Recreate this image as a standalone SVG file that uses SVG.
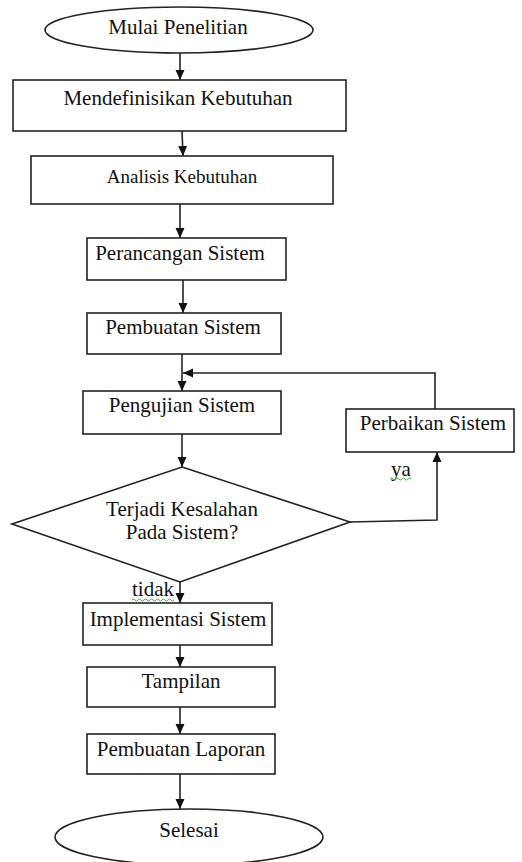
<svg xmlns="http://www.w3.org/2000/svg" width="522" height="862" viewBox="0 0 522 862">
<defs>
<marker id="arr" markerUnits="userSpaceOnUse" markerWidth="10" markerHeight="10" refX="10" refY="5" orient="auto">
<path d="M0,0.5 L10,5 L0,9.5 z" fill="#111"/>
</marker>
<style>
.shape{fill:#fff;stroke:#222;stroke-width:1.6}
.conn{fill:none;stroke:#222;stroke-width:1.6}
.t{font-family:"Liberation Serif","Times New Roman",serif;font-size:21px;fill:#111;text-anchor:middle}
.sq{fill:none;stroke:#4a4;stroke-width:1}
</style>
</defs>
<rect width="522" height="862" fill="#fff"/>
<g id="connectors">
<path class="conn" d="M180,53 V80" marker-end="url(#arr)"/>
<path class="conn" d="M182,131 L183,156" marker-end="url(#arr)"/>
<path class="conn" d="M180,204 V238" marker-end="url(#arr)"/>
<path class="conn" d="M183,280 V313" marker-end="url(#arr)"/>
<path class="conn" d="M182,354 V391" marker-end="url(#arr)"/>
<path class="conn" d="M435,409 V373 H183" marker-end="url(#arr)"/>
<path class="conn" d="M182,434 V467" marker-end="url(#arr)"/>
<path class="conn" d="M350,522 L437,520 V452" marker-end="url(#arr)"/>
<path class="conn" d="M180,582 V603" marker-end="url(#arr)"/>
<path class="conn" d="M180,645 V667" marker-end="url(#arr)"/>
<path class="conn" d="M180,707 V734" marker-end="url(#arr)"/>
<path class="conn" d="M180,774 V809" marker-end="url(#arr)"/>
<text class="t" x="401" y="476">ya</text>
<path class="sq" d="M390,479 q1.5,-2 3,0 t3,0 t3,0 t3,0 t3,0 t3,0 t3,0"/>
<text class="t" x="153" y="596">tidak</text>
<path class="sq" d="M132,600 q1.5,-2 3,0 t3,0 t3,0 t3,0 t3,0 t3,0 t3,0 t3,0 t3,0 t3,0 t3,0 t3,0 t3,0 t3,0"/>
</g>
<g id="start">
<ellipse class="shape" cx="179" cy="30" rx="134" ry="23"/>
<text class="t" x="178" y="34">Mulai Penelitian</text>
</g>
<g id="mendefinisikan">
<rect class="shape" x="13" y="80" width="333" height="51"/>
<text class="t" x="178" y="105">Mendefinisikan Kebutuhan</text>
</g>
<g id="analisis">
<rect class="shape" x="31" y="156" width="302" height="48"/>
<text class="t" x="182" y="183" style="font-size:19px">Analisis Kebutuhan</text>
</g>
<g id="perancangan">
<rect class="shape" x="87" y="238" width="199" height="42"/>
<text class="t" x="180" y="260">Perancangan Sistem</text>
</g>
<g id="pembuatan">
<rect class="shape" x="87" y="313" width="194" height="41"/>
<text class="t" x="183" y="334">Pembuatan Sistem</text>
</g>
<g id="pengujian">
<rect class="shape" x="83" y="391" width="198" height="43"/>
<text class="t" x="182" y="412">Pengujian Sistem</text>
</g>
<g id="perbaikan">
<rect class="shape" x="346" y="409" width="168" height="43"/>
<text class="t" x="433" y="430">Perbaikan Sistem</text>
</g>
<g id="decision">
<polygon class="shape" points="182,467 350,522 180,582 12,524"/>
<text class="t" x="182" y="516">Terjadi Kesalahan</text>
<text class="t" x="182" y="539">Pada Sistem?</text>
</g>
<g id="implementasi">
<rect class="shape" x="83" y="603" width="189" height="42"/>
<text class="t" x="178" y="626">Implementasi Sistem</text>
</g>
<g id="tampilan">
<rect class="shape" x="87" y="667" width="188" height="40"/>
<text class="t" x="181" y="688">Tampilan</text>
</g>
<g id="laporan">
<rect class="shape" x="87" y="734" width="188" height="40"/>
<text class="t" x="181" y="756">Pembuatan Laporan</text>
</g>
<g id="end">
<ellipse class="shape" cx="189" cy="837" rx="134" ry="28"/>
<text class="t" x="189" y="837">Selesai</text>
</g>
</svg>
